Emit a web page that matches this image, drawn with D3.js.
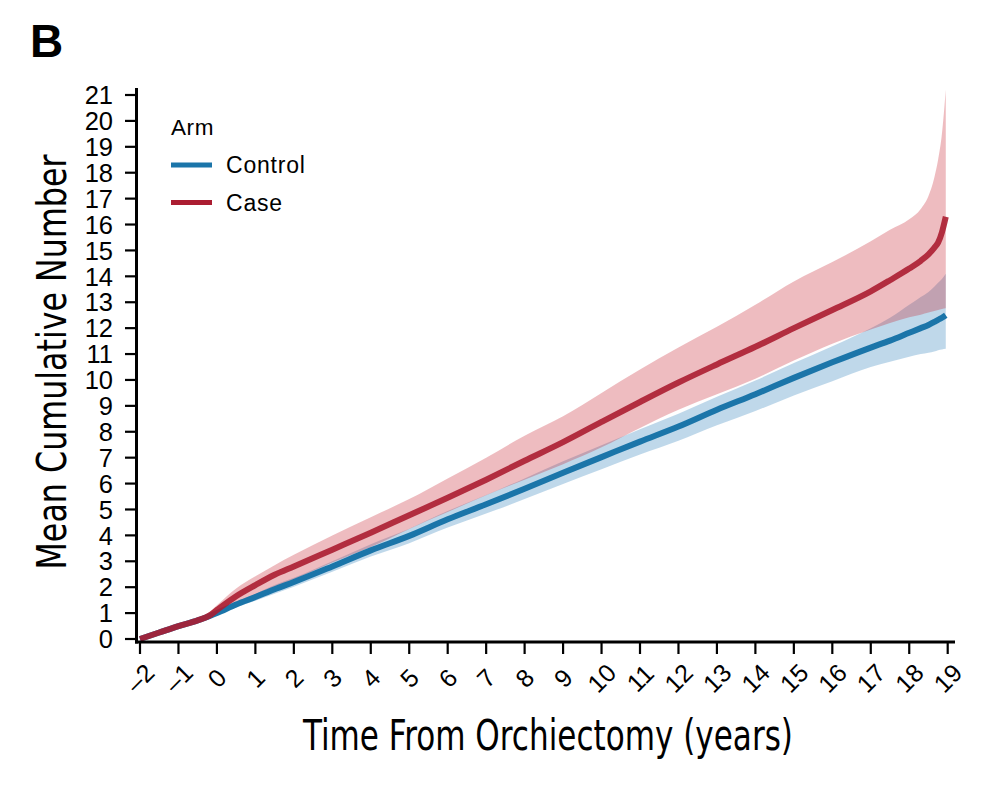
<!DOCTYPE html>
<html><head><meta charset="utf-8">
<script src="https://cdn.jsdelivr.net/npm/d3@7"></script>
<style>body{margin:0;background:#fff}svg{display:block}</style>
</head><body>
<svg id="c" width="982" height="794"></svg>
<script>
const years        = [-2,-1.5,-1,-0.5,-0.2,0,0.5,1,1.5,2,3,4,5,6,7,8,9,10,11,12,13,14,15,16,17,17.5,18,18.3,18.5,18.65,18.75,18.85,18.95];
const controlMean  = [0,0.25,0.5,0.72,0.88,1.0,1.33,1.62,1.92,2.2,2.8,3.42,3.98,4.62,5.2,5.8,6.42,7.02,7.62,8.2,8.85,9.45,10.08,10.68,11.25,11.52,11.82,12.0,12.12,12.24,12.32,12.4,12.5];
const controlLower = [0,0.22,0.46,0.66,0.8,0.92,1.22,1.48,1.75,2.02,2.6,3.18,3.7,4.3,4.84,5.4,5.98,6.55,7.12,7.65,8.25,8.8,9.4,9.95,10.5,10.7,10.9,11.0,11.05,11.1,11.15,11.18,11.2];
const controlUpper = [0,0.28,0.54,0.78,0.96,1.08,1.44,1.74,2.08,2.36,3.0,3.66,4.26,4.94,5.56,6.2,6.86,7.48,8.1,8.7,9.35,9.98,10.65,11.3,12.0,12.4,12.9,13.2,13.4,13.6,13.75,13.9,14.1];
const caseMean     = [0,0.25,0.5,0.72,0.9,1.12,1.65,2.08,2.48,2.8,3.45,4.1,4.78,5.45,6.15,6.88,7.6,8.38,9.15,9.9,10.6,11.28,12.0,12.7,13.42,13.85,14.3,14.6,14.85,15.1,15.3,15.7,16.3];
const caseLower    = [0,0.22,0.44,0.62,0.78,0.95,1.3,1.64,2.0,2.3,2.95,3.55,4.25,4.9,5.55,6.15,6.75,7.4,8.15,8.85,9.45,10.05,10.75,11.4,11.95,12.2,12.42,12.52,12.6,12.66,12.7,12.74,12.77];
const caseUpper    = [0,0.28,0.56,0.82,1.02,1.3,1.95,2.42,2.85,3.25,4.0,4.7,5.4,6.2,7.0,7.85,8.6,9.5,10.4,11.25,12.05,12.9,13.8,14.55,15.35,15.8,16.2,16.6,17.1,17.8,18.5,19.5,21.2];
const xTicks = d3.range(-2, 20);
const yTicks = d3.range(0, 22);
const seriesNames = ["Control", "Case"];
const legendTitle = "Arm";
const xTitle = "Time From Orchiectomy (years)";
const yTitle = "Mean Cumulative Number";
const panelLabel = "B";

const blue = "#1b75a9", red = "#ab1d31";
const svg = d3.select("#c");
const x = d3.scaleLinear().domain([-2, 19]).range([140, 947.7]);
const y = d3.scaleLinear().domain([0, 21]).range([639, 95]);
const font = "'Liberation Sans', Arial, Helvetica, sans-serif";
const narrow = "'Liberation Sans Narrow', 'Arial Narrow', 'DejaVu Sans Condensed', sans-serif";

const rows = years.map((t,i)=>({t, cm:controlMean[i], cl:controlLower[i], cu:controlUpper[i], km:caseMean[i], kl:caseLower[i], ku:caseUpper[i]}));
const cv = d3.curveMonotoneX;

// bands
svg.append("path").datum(rows)
  .attr("d", d3.area().curve(cv).x(d=>x(d.t)).y0(d=>y(d.cl)).y1(d=>y(d.cu)))
  .attr("fill", "#2c7fb8").attr("fill-opacity", 0.3);
svg.append("path").datum(rows)
  .attr("d", d3.area().curve(cv).x(d=>x(d.t)).y0(d=>y(d.kl)).y1(d=>y(d.ku)))
  .attr("fill", "#c8202f").attr("fill-opacity", 0.3);

// lines
svg.append("path").datum(rows)
  .attr("d", d3.line().curve(cv).x(d=>x(d.t)).y(d=>y(d.cm)))
  .attr("fill","none").attr("stroke", blue).attr("stroke-width", 6).attr("stroke-linejoin","round");
svg.append("path").datum(rows)
  .attr("d", d3.line().curve(cv).x(d=>x(d.t)).y(d=>y(d.km)))
  .attr("fill","none").attr("stroke", red).attr("stroke-width", 6).attr("stroke-opacity", 0.9).attr("stroke-linejoin","round");

// axes
const ax = svg.append("g");
ax.append("line").attr("x1",136.5).attr("x2",136.5).attr("y1",88).attr("y2",643.5).attr("stroke","#000").attr("stroke-width",3);
ax.append("line").attr("x1",135).attr("x2",955).attr("y1",642).attr("y2",642).attr("stroke","#000").attr("stroke-width",3);
ax.selectAll(".yt").data(yTicks).join("line")
  .attr("x1",125).attr("x2",136).attr("y1",d=>y(d)).attr("y2",d=>y(d)).attr("stroke","#000").attr("stroke-width",2.2);
ax.selectAll(".ytl").data(yTicks).join("text")
  .attr("x",113).attr("y",d=>y(d)).attr("dy","0.36em").attr("text-anchor","end")
  .attr("font-family",font).attr("font-size",25.5).attr("fill","#000").text(d=>d);
ax.selectAll(".xt").data(xTicks).join("line")
  .attr("x1",d=>x(d)).attr("x2",d=>x(d)).attr("y1",642).attr("y2",654).attr("stroke","#000").attr("stroke-width",2.2);
ax.selectAll(".xtl").data(xTicks).join("text")
  .attr("transform",d=>`translate(${x(d)},678) rotate(-45)`)
  .attr("text-anchor","middle").attr("dy","0.36em")
  .attr("font-family",font).attr("font-size",25).attr("fill","#000")
  .text(d=> d<0 ? "\u2013"+Math.abs(d) : d);

// titles
svg.append("text").attr("x",548).attr("y",750).attr("text-anchor","middle")
  .attr("font-family",narrow).attr("font-size",42).attr("fill","#000")
  .attr("textLength",490).attr("lengthAdjust","spacingAndGlyphs").text(xTitle);
svg.append("text").attr("transform","translate(66,362) rotate(-90)").attr("text-anchor","middle")
  .attr("font-family",narrow).attr("font-size",41).attr("fill","#000")
  .attr("textLength",415).attr("lengthAdjust","spacingAndGlyphs").text(yTitle);
svg.append("text").attr("x",30).attr("y",57).attr("font-family",font).attr("font-weight","bold")
  .attr("font-size",46).attr("fill","#000").text(panelLabel);

// legend
const lg = svg.append("g");
lg.append("text").attr("x",171).attr("y",135).attr("font-family",font).attr("font-size",22.5)
  .attr("letter-spacing",0.6).attr("fill","#000").text(legendTitle);
const lcol = [blue, red];
seriesNames.forEach((n,i)=>{
  const yy = 165 + i*37.5;
  lg.append("line").attr("x1",171).attr("x2",212).attr("y1",yy).attr("y2",yy).attr("stroke",lcol[i]).attr("stroke-width",5);
  lg.append("text").attr("x",226).attr("y",yy+8).attr("font-family",font).attr("font-size",23)
    .attr("letter-spacing",0.8).attr("fill","#000").text(n);
});
</script>
</body></html>
